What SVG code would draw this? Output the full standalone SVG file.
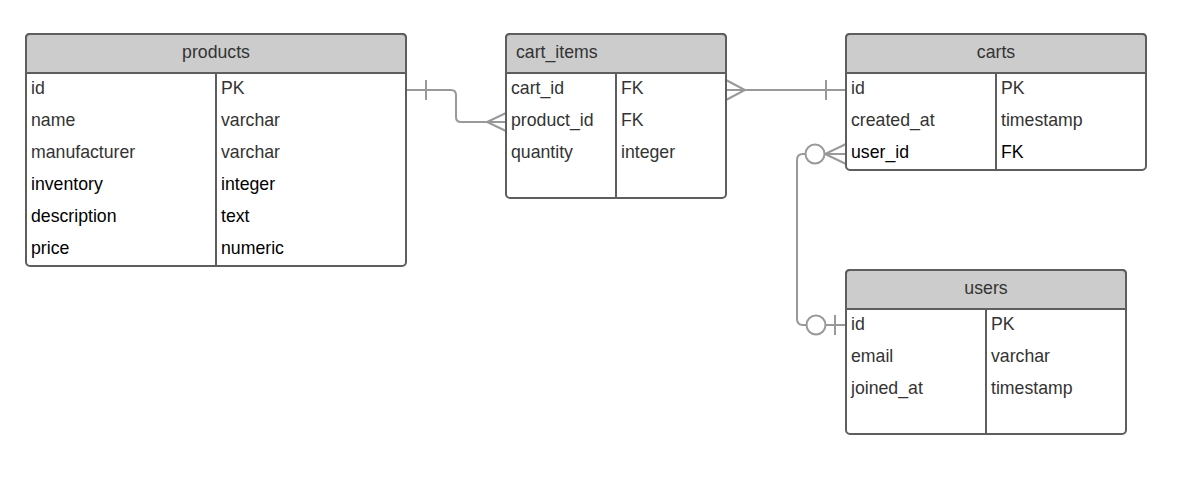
<svg xmlns="http://www.w3.org/2000/svg" width="1191" height="479" viewBox="0 0 1191 479">
<style>
.box{fill:#fff;stroke:#5e5e5e;stroke-width:2}
.hdr{fill:#cccccc;stroke:#5e5e5e;stroke-width:2}
.ln{stroke:#5e5e5e;stroke-width:2;fill:none}
.t{font-family:"Liberation Sans",Arial,sans-serif;font-size:17.7px;fill:#333}
.k{fill:#000}
.c{text-anchor:middle}
.con{stroke:#999;stroke-width:2;fill:none}
.circ{stroke:#999;stroke-width:2;fill:#fff}
</style>
<rect width="1191" height="479" fill="#fff"/>
<g id="connectors">
  <path class="con" d="M406,90 H451 Q456,90 456,95 V117 Q456,122 461,122 H506"/>
  <path class="con" d="M426,80 V100"/>
  <path class="con" d="M506,113 L487,122 L506,131"/>
  <path class="con" d="M726,90 H846"/>
  <path class="con" d="M726,80 L745,90 L726,100"/>
  <path class="con" d="M826,80 V100"/>
  <path class="con" d="M846,154 H825"/>
  <path class="con" d="M846,144 L825,154 L846,164"/>
  <circle class="circ" cx="815" cy="154" r="9.5"/>
  <path class="con" d="M805.5,154 H803 Q797,154 797,160 V319 Q797,325 803,325 H806"/>
  <circle class="circ" cx="816" cy="325" r="9.5"/>
  <path class="con" d="M825.5,325 H846"/>
  <path class="con" d="M835,315 V335"/>
</g>
<g id="products">
  <rect class="box" x="26" y="34" width="380" height="232" rx="4"/>
  <path class="hdr" d="M26,73 V38 Q26,34 30,34 H402 Q406,34 406,38 V73 Z"/>
  <path class="ln" d="M216,73 V266"/>
  <text class="t c" x="216" y="58">products</text>
  <text class="t" x="31" y="94">id</text><text class="t" x="221" y="94">PK</text>
  <text class="t" x="31" y="126">name</text><text class="t" x="221" y="126">varchar</text>
  <text class="t" x="31" y="158">manufacturer</text><text class="t" x="221" y="158">varchar</text>
  <text class="t k" x="31" y="190">inventory</text><text class="t k" x="221" y="190">integer</text>
  <text class="t k" x="31" y="222">description</text><text class="t k" x="221" y="222">text</text>
  <text class="t k" x="31" y="254">price</text><text class="t k" x="221" y="254">numeric</text>
</g>
<g id="cart_items">
  <rect class="box" x="506" y="34" width="220" height="164" rx="4"/>
  <path class="hdr" d="M506,73 V38 Q506,34 510,34 H722 Q726,34 726,38 V73 Z"/>
  <path class="ln" d="M616,73 V198"/>
  <text class="t" x="516" y="58">cart_items</text>
  <text class="t" x="511" y="94">cart_id</text><text class="t" x="621" y="94">FK</text>
  <text class="t" x="511" y="126">product_id</text><text class="t" x="621" y="126">FK</text>
  <text class="t" x="511" y="158">quantity</text><text class="t" x="621" y="158">integer</text>
</g>
<g id="carts">
  <rect class="box" x="846" y="34" width="300" height="136" rx="4"/>
  <path class="hdr" d="M846,73 V38 Q846,34 850,34 H1142 Q1146,34 1146,38 V73 Z"/>
  <path class="ln" d="M996,73 V170"/>
  <text class="t c" x="996" y="58">carts</text>
  <text class="t" x="851" y="94">id</text><text class="t" x="1001" y="94">PK</text>
  <text class="t" x="851" y="126">created_at</text><text class="t" x="1001" y="126">timestamp</text>
  <text class="t k" x="851" y="158">user_id</text><text class="t k" x="1001" y="158">FK</text>
</g>
<g id="users">
  <rect class="box" x="846" y="270" width="280" height="164" rx="4"/>
  <path class="hdr" d="M846,309 V274 Q846,270 850,270 H1122 Q1126,270 1126,274 V309 Z"/>
  <path class="ln" d="M986,309 V434"/>
  <text class="t c" x="986" y="294">users</text>
  <text class="t" x="851" y="330">id</text><text class="t" x="991" y="330">PK</text>
  <text class="t" x="851" y="362">email</text><text class="t" x="991" y="362">varchar</text>
  <text class="t" x="851" y="394">joined_at</text><text class="t" x="991" y="394">timestamp</text>
</g>
</svg>
